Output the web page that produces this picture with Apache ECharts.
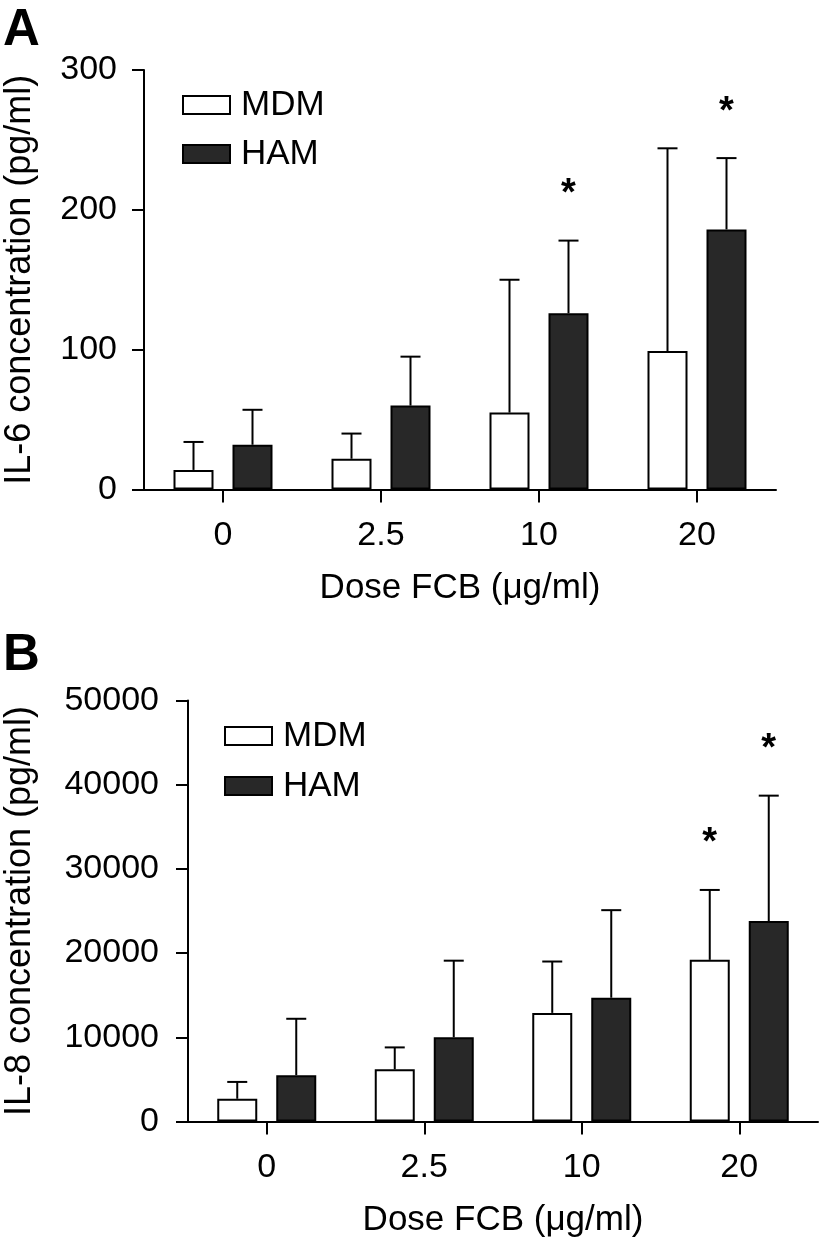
<!DOCTYPE html>
<html>
<head>
<meta charset="utf-8">
<script src="https://cdn.jsdelivr.net/npm/echarts@6/dist/echarts.min.js"></script>
<style>html,body{margin:0;padding:0;background:#fff}#c{width:820px;height:1240px}</style>
</head>
<body>
<div id="c"></div>
<script>
// ---- data ----
const categories = ['0', '2.5', '10', '20'];
const seriesNames = ['MDM', 'HAM'];
// Panel A: IL-6 (pg/ml)
const il6MDM = [14, 22, 55, 99];
const il6MDMErr = [20, 18, 95, 145];
const il6HAM = [32, 60, 126, 186];
const il6HAMErr = [25, 35, 52, 51];
const il6StarMDM = [0, 0, 0, 0];
const il6StarHAM = [0, 0, 1, 1];
const il6Ticks = [0, 100, 200, 300];
// Panel B: IL-8 (pg/ml)
const il8MDM = [2700, 6200, 12900, 19200];
const il8MDMErr = [2000, 2600, 6100, 8300];
const il8HAM = [5500, 10000, 14700, 23800];
const il8HAMErr = [6700, 9100, 10400, 14900];
const il8StarMDM = [0, 0, 0, 1];
const il8StarHAM = [0, 0, 0, 1];
const il8Ticks = [0, 10000, 20000, 30000, 40000, 50000];

// ---- style ----
const FONT = '"Liberation Sans", Arial, Helvetica, sans-serif';
const BAR_W = 40;
const GAP_PX = 19;
const OFFSET = (BAR_W + GAP_PX) / 2;
const HAM_FILL = '#282828';

const chart = echarts.init(document.getElementById('c'), null, {renderer: 'canvas'});

function yAxisDef(gridIndex, ticks, name, nameGap, labelMargin) {
  return {
    type: 'value', gridIndex: gridIndex,
    min: ticks[0], max: ticks[ticks.length - 1], interval: ticks[1] - ticks[0],
    name: name, nameLocation: 'middle', nameGap: nameGap,
    nameTextStyle: {fontFamily: FONT, fontSize: 36, color: '#000'},
    axisLine: {show: true, lineStyle: {color: '#000', width: 2}},
    axisTick: {show: true, length: 12, lineStyle: {color: '#000', width: 2}},
    axisLabel: {fontFamily: FONT, fontSize: 34, color: '#000', margin: labelMargin,
      formatter: function (v) { return String(v); }},
    splitLine: {show: false}
  };
}
function xAxisDef(gridIndex) {
  return {
    type: 'category', gridIndex: gridIndex, data: categories,
    name: 'Dose FCB (\u03bcg/ml)', nameLocation: 'middle', nameGap: 81,
    nameTextStyle: {fontFamily: FONT, fontSize: 35, color: '#000'},
    axisLine: {show: true, lineStyle: {color: '#000', width: 2}},
    axisTick: {show: true, length: 13, alignWithLabel: true, lineStyle: {color: '#000', width: 2}},
    axisLabel: {fontFamily: FONT, fontSize: 34, color: '#000', margin: 29},
    splitLine: {show: false}
  };
}
function barSeries(name, idx, values, fill) {
  return {
    name: name, type: 'bar', xAxisIndex: idx, yAxisIndex: idx,
    data: values, barWidth: BAR_W, barGap: (GAP_PX / BAR_W * 100) + '%',
    itemStyle: {color: fill, borderColor: '#000', borderWidth: 2},
    emphasis: {disabled: true}, z: 2
  };
}
function errSeries(idx, values, errs, side) {
  return {
    type: 'custom', xAxisIndex: idx, yAxisIndex: idx, silent: true, z: 1, clip: false,
    data: values.map((v, i) => [i, v, errs[i]]),
    renderItem: function (params, api) {
      const base = api.coord([api.value(0), api.value(1)]);
      const top = api.coord([api.value(0), api.value(1) + api.value(2)]);
      const x = base[0] + side * OFFSET;
      const st = {stroke: '#000', lineWidth: 2};
      return {type: 'group', children: [
        {type: 'line', shape: {x1: x, y1: base[1], x2: x, y2: top[1]}, style: st},
        {type: 'line', shape: {x1: x - 10, y1: top[1], x2: x + 10, y2: top[1]}, style: st}
      ]};
    }
  };
}
function starSeries(idx, values, errs, stars, side) {
  const d = [];
  values.forEach((v, i) => { if (stars[i]) d.push([i, v, errs[i]]); });
  return {
    type: 'custom', xAxisIndex: idx, yAxisIndex: idx, silent: true, z: 3, clip: false,
    data: d,
    renderItem: function (params, api) {
      const top = api.coord([api.value(0), api.value(1) + api.value(2)]);
      return {type: 'text', x: top[0] + side * OFFSET, y: top[1] - 46,
        style: {text: '*', font: 'bold 38px ' + FONT, fill: '#000', align: 'center', verticalAlign: 'middle'}};
    }
  };
}
function legendDef(left, top, gap) {
  return {
    data: seriesNames, orient: 'vertical', left: left, top: top, padding: 0,
    itemWidth: 47, itemHeight: 18, itemGap: gap, icon: 'rect', selectedMode: false,
    textStyle: {fontFamily: FONT, fontSize: 35, lineHeight: 36, color: '#000', padding: [0, 0, 0, 6]}
  };
}

const option = {
  animation: false,
  backgroundColor: '#fff',
  title: [
    {text: 'A', left: 3, top: 5, padding: 0, textStyle: {fontFamily: FONT, fontSize: 51, fontWeight: 'bold', color: '#000'}},
    {text: 'B', left: 3, top: 630, padding: 0, textStyle: {fontFamily: FONT, fontSize: 51, fontWeight: 'bold', color: '#000'}}
  ],
  legend: [legendDef(182, 87, 13), legendDef(224, 718, 14)],
  grid: [
    {left: 144, top: 70, width: 632, height: 419.5, containLabel: false, outerBoundsMode: 'none'},
    {left: 188, top: 700.5, width: 630, height: 421, containLabel: false, outerBoundsMode: 'none'}
  ],
  xAxis: [xAxisDef(0), xAxisDef(1)],
  yAxis: [
    yAxisDef(0, il6Ticks, 'IL-6 concentration (pg/ml)', 106, 27),
    yAxisDef(1, il8Ticks, 'IL-8 concentration (pg/ml)', 150, 29)
  ],
  series: [
    errSeries(0, il6MDM, il6MDMErr, -1),
    errSeries(0, il6HAM, il6HAMErr, 1),
    barSeries('MDM', 0, il6MDM, '#fff'),
    barSeries('HAM', 0, il6HAM, HAM_FILL),
    starSeries(0, il6MDM, il6MDMErr, il6StarMDM, -1),
    starSeries(0, il6HAM, il6HAMErr, il6StarHAM, 1),
    errSeries(1, il8MDM, il8MDMErr, -1),
    errSeries(1, il8HAM, il8HAMErr, 1),
    barSeries('MDM', 1, il8MDM, '#fff'),
    barSeries('HAM', 1, il8HAM, HAM_FILL),
    starSeries(1, il8MDM, il8MDMErr, il8StarMDM, -1),
    starSeries(1, il8HAM, il8HAMErr, il8StarHAM, 1)
  ]
};
chart.setOption(option);
</script>
</body>
</html>
